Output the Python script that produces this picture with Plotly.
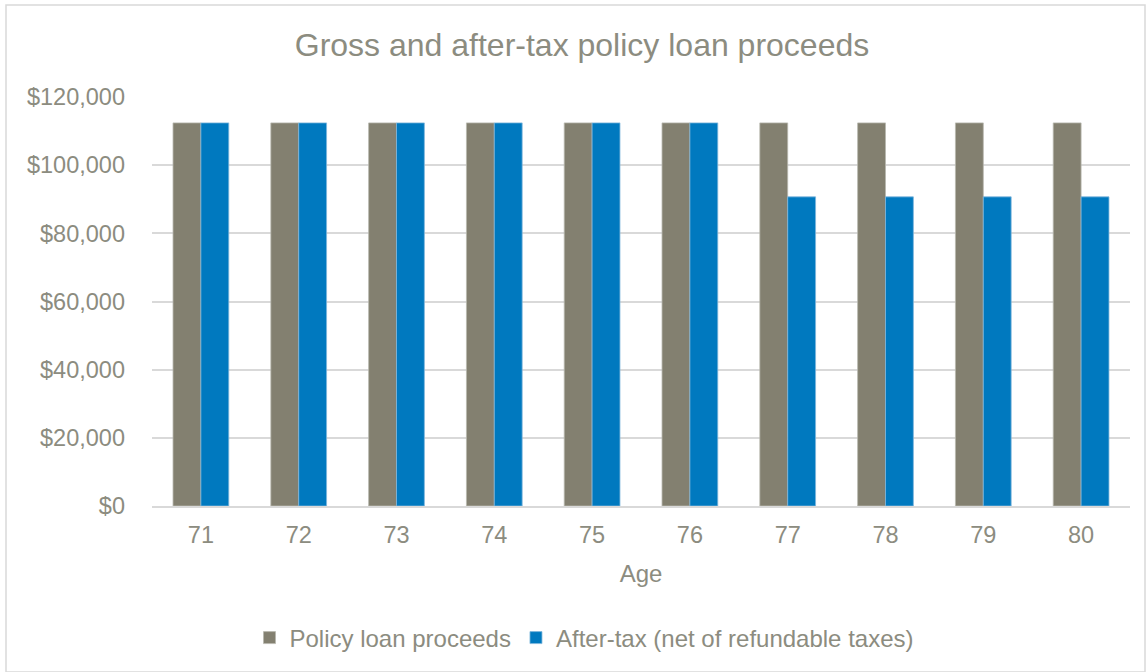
import plotly.graph_objects as go

ages = ["71", "72", "73", "74", "75", "76", "77", "78", "79", "80"]
gross = [112400, 112400, 112400, 112400, 112400, 112400, 112400, 112400, 112400, 112400]
after_tax = [112400, 112400, 112400, 112400, 112400, 112400, 90700, 90700, 90700, 90700]
y_ticks = [0, 20000, 40000, 60000, 80000, 100000, 120000]
y_tick_labels = ["$0", "$20,000", "$40,000", "$60,000", "$80,000", "$100,000", "$120,000"]

GRAY = "#838070"
BLUE = "#0079BF"
TEXT = "#8C8C80"
FONT = "Liberation Sans, Arial, sans-serif"

fig = go.Figure()
fig.add_trace(go.Bar(x=ages, y=gross, name="Policy loan proceeds",
                     marker=dict(color=GRAY, line=dict(color="#B8B8AE", width=0.8))))
fig.add_trace(go.Bar(x=ages, y=after_tax, name="After-tax (net of refundable taxes)",
                     marker=dict(color=BLUE, line=dict(color="#7FB6DC", width=0.8))))

W, H = 1147, 672
L, R, T, B = 152, 17, 97, 166
pw, ph = W - L - R, H - T - B

def px(xp):
    return (xp - L) / pw

def py(yp):
    return (H - B - yp) / ph

fig.update_layout(
    width=W, height=H,
    margin=dict(l=L, r=R, t=T, b=B),
    paper_bgcolor="white", plot_bgcolor="white",
    barmode="group", bargap=0.43, bargroupgap=0,
    font=dict(family=FONT, color=TEXT, size=23.5),
    title=dict(text="Gross and after-tax policy loan proceeds",
               x=582 / W, xanchor="center", y=1 - 45 / H, yanchor="middle",
               font=dict(size=32, color=TEXT, family=FONT)),
    legend=dict(orientation="h", x=px(584), xanchor="center", y=py(638), yanchor="middle",
                font=dict(size=24, color=TEXT), itemwidth=30, traceorder="normal",
                bgcolor="rgba(0,0,0,0)"),
    xaxis=dict(title=dict(text="Age", font=dict(size=24, color=TEXT), standoff=18),
               showgrid=False, showline=True, linecolor="#D9D9D9", linewidth=1.5,
               ticks="", ticklabelstandoff=7, tickfont=dict(size=23.5, color=TEXT)),
    yaxis=dict(range=[0, 120000], tickvals=y_ticks, ticktext=y_tick_labels,
               showgrid=True, gridcolor="#D9D9D9", gridwidth=1.5, zeroline=False,
               showline=False, ticks="", ticklabelstandoff=26,
               tickfont=dict(size=23.5, color=TEXT)),
    shapes=[dict(type="rect", xref="paper", yref="paper",
                 x0=px(6), x1=px(1145), y0=py(672), y1=py(5),
                 line=dict(color="#D9D9D9", width=1.5), fillcolor="rgba(0,0,0,0)",
                 layer="below")],
)

fig.write_html("out.html")
